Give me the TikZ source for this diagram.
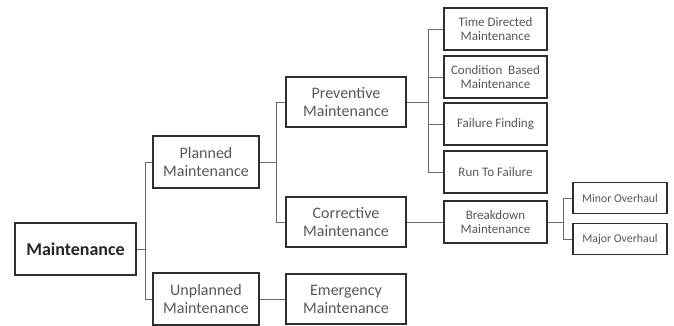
\documentclass[tikz,border=0pt]{standalone}
\usepackage{fontspec}
\setmainfont{Carlito}
\usepackage{tikz}
\usetikzlibrary{positioning}
\definecolor{boxline}{HTML}{2F2F2F}
\definecolor{boxtext}{HTML}{585858}
\definecolor{linkline}{HTML}{6A6A6A}
\begin{document}
\begin{tikzpicture}[x=1pt,y=-1pt,
  box/.style={draw=boxline,line width=1.6pt,align=center,text=boxtext,inner sep=2pt,
              fill=white,font=\fontsize{16}{18}\selectfont},
  root/.style={box,minimum width=121pt,minimum height=52pt,text=black!85,
              font=\fontsize{18}{20}\selectfont\bfseries},
  lvtwo/.style={box,minimum width=106pt,minimum height=52pt},
  lvthree/.style={box,minimum width=120pt,minimum height=50pt},
  lvfour/.style={box,minimum width=103pt,minimum height=42pt,
              font=\fontsize{13}{14}\selectfont},
  lvfive/.style={box,minimum width=94pt,minimum height=31pt,
              font=\fontsize{11.8}{13}\selectfont},
  link/.style={draw=linkline,line width=0.9pt}]
\useasboundingbox (0,0) rectangle (674,325);
% boxes
\node[root]   (maint) at (75.5,249) {Maintenance};
\node[lvtwo]  (plan)  at (206,162)  {Planned\\Maintenance};
\node[lvtwo]  (unpl)  at (206,299)  {Unplanned\\Maintenance};
\node[lvthree](prev)  at (346,102)  {Preventive\\Maintenance};
\node[lvthree](corr)  at (346,222)  {Corrective\\Maintenance};
\node[lvthree](emer)  at (346,299)  {Emergency\\Maintenance};
\node[lvfour] (tdm)   at (495.5,29) {Time Directed\\Maintenance};
\node[lvfour] (cbm)   at (495.5,77) {Condition\ \ Based\\Maintenance};
\node[lvfour] (ff)    at (495.5,124){Failure Finding};
\node[lvfour] (rtf)   at (495.5,172){Run To Failure};
\node[lvfour] (brk)   at (495.5,222){Breakdown\\Maintenance};
\node[lvfive] (minor) at (620,198)  {Minor Overhaul};
\node[lvfive] (major) at (620,239)  {Major Overhaul};
% connectors
\draw[link] (maint.east) -- ++(9,0) |- (plan.west);
\draw[link] (maint.east) -- ++(9,0) |- (unpl.west);
\draw[link] (plan.east) -- ++(17,0) |- (prev.west);
\draw[link] (plan.east) -- ++(17,0) |- (corr.west);
\draw[link] (unpl.east) -- (emer.west);
\foreach \kid in {tdm,cbm,ff,rtf}
  \draw[link] (prev.east) -- ++(22,0) |- (\kid.west);
\draw[link] (corr.east) -- (brk.west);
\draw[link] (brk.east) -- ++(16,0) |- (minor.west);
\draw[link] (brk.east) -- ++(16,0) |- (major.west);
\end{tikzpicture}
\end{document}
